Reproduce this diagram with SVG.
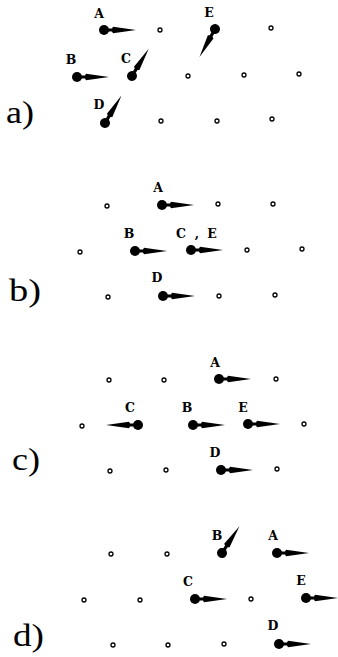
<svg xmlns="http://www.w3.org/2000/svg" xmlns:xlink="http://www.w3.org/1999/xlink" width="338" height="657" viewBox="0 0 338 657">
<style>
.site{fill:#fff;stroke:#000;stroke-width:1.3}
.lbl{font-family:"DejaVu Serif",serif;font-weight:bold;font-size:12.5px;text-anchor:middle;fill:#000}
.pl{font-family:"Liberation Serif",serif;font-size:31px;fill:#000}
</style>
<defs>
<g id="arr">
<circle cx="0" cy="0" r="5" fill="#000"/>
<path d="M0,-1.6 L8,-1.6 L9,-3.2 L32,0 L9,3.2 L8,1.6 L0,1.6 Z" fill="#000"/>
</g>
</defs>
<rect width="338" height="657" fill="#fff"/>

<!-- panel a -->
<g id="panel-a">
<text class="pl" x="6" y="123" textLength="28" lengthAdjust="spacingAndGlyphs">a)</text>
<g id="a-sites">
<circle class="site" cx="160" cy="30" r="2"/>
<circle class="site" cx="271" cy="28" r="2"/>
<circle class="site" cx="188" cy="76" r="2"/>
<circle class="site" cx="244" cy="75" r="2"/>
<circle class="site" cx="299" cy="74" r="2"/>
<circle class="site" cx="161" cy="121" r="2"/>
<circle class="site" cx="217" cy="121" r="2"/>
<circle class="site" cx="272" cy="119" r="2"/>
</g>
<g id="a-A"><text class="lbl" x="99" y="17.5">A</text><use xlink:href="#arr" transform="translate(104,30)"/></g>
<g id="a-E"><text class="lbl" x="209" y="16.5">E</text><use xlink:href="#arr" transform="translate(215,29) rotate(119)"/></g>
<g id="a-B"><text class="lbl" x="71" y="63.5">B</text><use xlink:href="#arr" transform="translate(77,77)"/></g>
<g id="a-C"><text class="lbl" x="126" y="62.5">C</text><use xlink:href="#arr" transform="translate(132,76) rotate(-58.5)"/></g>
<g id="a-D"><text class="lbl" x="99" y="108.5">D</text><use xlink:href="#arr" transform="translate(105,123) rotate(-59)"/></g>
</g>

<!-- panel b -->
<g id="panel-b">
<text class="pl" x="9" y="301" textLength="32" lengthAdjust="spacingAndGlyphs">b)</text>
<g id="b-sites">
<circle class="site" cx="107" cy="206" r="2"/>
<circle class="site" cx="218" cy="204" r="2"/>
<circle class="site" cx="273" cy="204" r="2"/>
<circle class="site" cx="80" cy="252" r="2"/>
<circle class="site" cx="247" cy="250" r="2"/>
<circle class="site" cx="302" cy="249" r="2"/>
<circle class="site" cx="108" cy="297" r="2"/>
<circle class="site" cx="219" cy="296" r="2"/>
<circle class="site" cx="275" cy="295" r="2"/>
</g>
<g id="b-A"><text class="lbl" x="158" y="191.5">A</text><use xlink:href="#arr" transform="translate(162,205)"/></g>
<g id="b-B"><text class="lbl" x="129" y="237.5">B</text><use xlink:href="#arr" transform="translate(135,251)"/></g>
<g id="b-CE"><text class="lbl" x="181 197 212" y="237.5">C,E</text><use xlink:href="#arr" transform="translate(191,250)"/></g>
<g id="b-D"><text class="lbl" x="157" y="281.5">D</text><use xlink:href="#arr" transform="translate(163,296)"/></g>
</g>

<!-- panel c -->
<g id="panel-c">
<text class="pl" x="12" y="470" textLength="28" lengthAdjust="spacingAndGlyphs">c)</text>
<g id="c-sites">
<circle class="site" cx="109" cy="380" r="2"/>
<circle class="site" cx="164" cy="380" r="2"/>
<circle class="site" cx="276" cy="379" r="2"/>
<circle class="site" cx="82" cy="426" r="2"/>
<circle class="site" cx="304" cy="424" r="2"/>
<circle class="site" cx="110" cy="471" r="2"/>
<circle class="site" cx="166" cy="470" r="2"/>
<circle class="site" cx="277" cy="469" r="2"/>
</g>
<g id="c-A"><text class="lbl" x="215" y="366.5">A</text><use xlink:href="#arr" transform="translate(219,379)"/></g>
<g id="c-C"><text class="lbl" x="130" y="411.5">C</text><use xlink:href="#arr" transform="translate(138,425) rotate(180)"/></g>
<g id="c-B"><text class="lbl" x="187" y="411.5">B</text><use xlink:href="#arr" transform="translate(193,425)"/></g>
<g id="c-E"><text class="lbl" x="243" y="411.5">E</text><use xlink:href="#arr" transform="translate(248,424)"/></g>
<g id="c-D"><text class="lbl" x="215" y="456.5">D</text><use xlink:href="#arr" transform="translate(221,470)"/></g>
</g>

<!-- panel d -->
<g id="panel-d">
<text class="pl" x="13" y="646" textLength="31" lengthAdjust="spacingAndGlyphs">d)</text>
<g id="d-sites">
<circle class="site" cx="111" cy="554" r="2"/>
<circle class="site" cx="167" cy="554" r="2"/>
<circle class="site" cx="84" cy="600" r="2"/>
<circle class="site" cx="140" cy="600" r="2"/>
<circle class="site" cx="251" cy="599" r="2"/>
<circle class="site" cx="113" cy="645" r="2"/>
<circle class="site" cx="168" cy="645" r="2"/>
<circle class="site" cx="224" cy="644" r="2"/>
</g>
<g id="d-B"><text class="lbl" x="217" y="539.5">B</text><use xlink:href="#arr" transform="translate(222,553) rotate(-57)"/></g>
<g id="d-A"><text class="lbl" x="273" y="539.5">A</text><use xlink:href="#arr" transform="translate(277,553)"/></g>
<g id="d-C"><text class="lbl" x="188" y="585.5">C</text><use xlink:href="#arr" transform="translate(195,599)"/></g>
<g id="d-E"><text class="lbl" x="301" y="584.5">E</text><use xlink:href="#arr" transform="translate(306,598)"/></g>
<g id="d-D"><text class="lbl" x="273" y="629.5">D</text><use xlink:href="#arr" transform="translate(279,644)"/></g>
</g>
</svg>
